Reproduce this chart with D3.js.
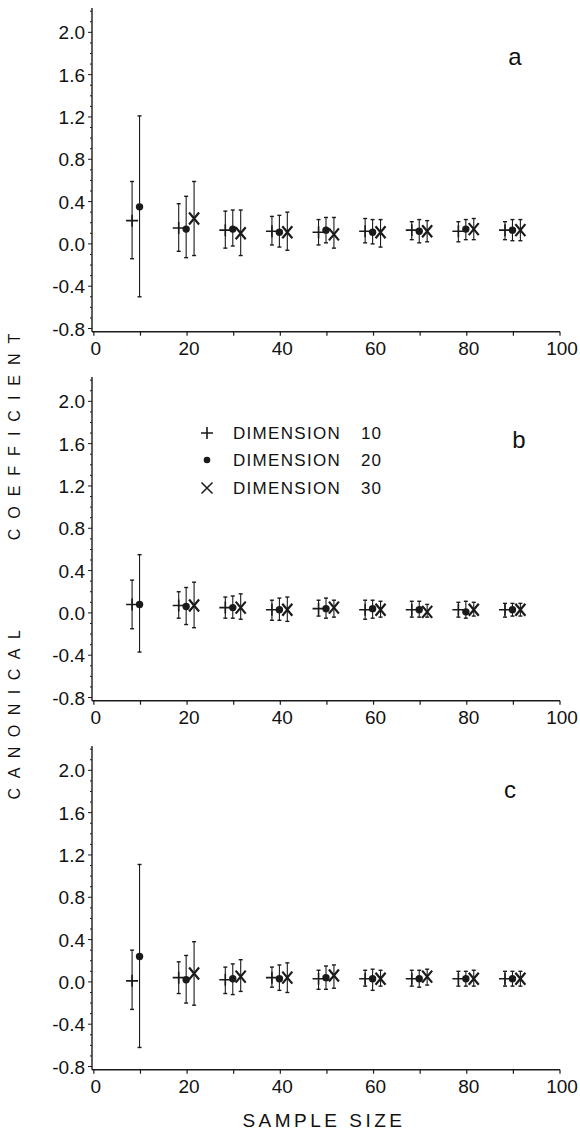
<!DOCTYPE html>
<html>
<head>
<meta charset="utf-8">
<script src="https://cdn.jsdelivr.net/npm/d3@7"></script>
<style>
  body { margin: 0; background: #fff; }
  text { font-family: "Liberation Sans", Arial, sans-serif; fill: #111; }
</style>
</head>
<body>
<div id="chart"></div>
<script>
// sample sizes (x groups)
const sampleSizes = [10, 20, 30, 40, 50, 60, 70, 80, 90];
const dimensions = [10, 20, 30];
const xTickLabels = [0, 20, 40, 60, 80, 100];
const yTickLabels = [-0.8, -0.4, 0.0, 0.4, 0.8, 1.2, 1.6, 2.0];
const panelNames = ["a", "b", "c"];

// panel a
const aMean10 = [0.22, 0.15, 0.13, 0.12, 0.11, 0.12, 0.13, 0.12, 0.13];
const aLow10  = [-0.14, -0.07, -0.04, -0.01, -0.01, 0.01, 0.04, 0.02, 0.04];
const aHigh10 = [0.59, 0.38, 0.31, 0.26, 0.23, 0.24, 0.21, 0.21, 0.21];
const aMean20 = [0.35, 0.14, 0.14, 0.11, 0.13, 0.11, 0.12, 0.14, 0.13];
const aLow20  = [-0.50, -0.13, -0.02, -0.03, 0.01, 0.00, 0.01, 0.04, 0.03];
const aHigh20 = [1.21, 0.45, 0.32, 0.27, 0.25, 0.23, 0.23, 0.23, 0.23];
const aMean30 = [null, 0.24, 0.10, 0.11, 0.09, 0.11, 0.12, 0.14, 0.13];
const aLow30  = [null, -0.11, -0.11, -0.06, -0.04, -0.03, 0.02, 0.04, 0.03];
const aHigh30 = [null, 0.59, 0.32, 0.30, 0.25, 0.23, 0.22, 0.24, 0.23];

// panel b
const bMean10 = [0.08, 0.07, 0.05, 0.03, 0.04, 0.03, 0.03, 0.03, 0.03];
const bLow10  = [-0.15, -0.05, -0.05, -0.07, -0.03, -0.06, -0.04, -0.04, -0.04];
const bHigh10 = [0.31, 0.20, 0.15, 0.12, 0.12, 0.12, 0.11, 0.10, 0.09];
const bMean20 = [0.08, 0.06, 0.05, 0.03, 0.04, 0.04, 0.03, 0.01, 0.03];
const bLow20  = [-0.37, -0.11, -0.05, -0.07, -0.05, -0.05, -0.04, -0.05, -0.03];
const bHigh20 = [0.55, 0.24, 0.16, 0.14, 0.14, 0.12, 0.11, 0.11, 0.09];
const bMean30 = [null, 0.07, 0.05, 0.03, 0.05, 0.03, 0.01, 0.03, 0.03];
const bLow30  = [null, -0.14, -0.06, -0.08, -0.04, -0.04, -0.04, -0.03, -0.03];
const bHigh30 = [null, 0.29, 0.18, 0.15, 0.12, 0.11, 0.08, 0.10, 0.09];

// panel c
const cMean10 = [0.01, 0.04, 0.02, 0.04, 0.03, 0.03, 0.03, 0.03, 0.03];
const cLow10  = [-0.26, -0.11, -0.11, -0.05, -0.07, -0.04, -0.04, -0.04, -0.04];
const cHigh10 = [0.30, 0.19, 0.14, 0.14, 0.11, 0.11, 0.11, 0.10, 0.10];
const cMean20 = [0.24, 0.02, 0.03, 0.03, 0.04, 0.03, 0.03, 0.03, 0.03];
const cLow20  = [-0.62, -0.20, -0.12, -0.08, -0.07, -0.08, -0.05, -0.04, -0.04];
const cHigh20 = [1.11, 0.25, 0.17, 0.16, 0.15, 0.12, 0.11, 0.10, 0.10];
const cMean30 = [null, 0.08, 0.05, 0.04, 0.06, 0.03, 0.05, 0.03, 0.03];
const cLow30  = [null, -0.22, -0.09, -0.10, -0.06, -0.04, -0.03, -0.04, -0.04];
const cHigh30 = [null, 0.38, 0.21, 0.18, 0.16, 0.11, 0.12, 0.11, 0.10];

const panels = [
  { name: "a", mean: [aMean10, aMean20, aMean30], low: [aLow10, aLow20, aLow30], high: [aHigh10, aHigh20, aHigh30] },
  { name: "b", mean: [bMean10, bMean20, bMean30], low: [bLow10, bLow20, bLow30], high: [bHigh10, bHigh20, bHigh30] },
  { name: "c", mean: [cMean10, cMean20, cMean30], low: [cLow10, cLow20, cLow30], high: [cHigh10, cHigh20, cHigh30] }
];

// horizontal shift of each dimension inside a group (sample size units)
const dimShift = [-1.8, -0.2, 1.5];

const width = 580, height = 1133;
const svg = d3.select("#chart").append("svg")
    .attr("width", width).attr("height", height);

const x = d3.scaleLinear().domain([-0.4, 100]).range([92, 560]);
const ink = "#1a1a1a";

panels.forEach(function (p, i) {
    const off = i * 369;
    const y = d3.scaleLinear().domain([-0.83, 2.23]).range([331.7 + off, 8 + off]);
    const g = svg.append("g");

    // y axis line + ticks
    g.append("line")
        .attr("x1", x(-0.4)).attr("x2", x(-0.4))
        .attr("y1", y(2.23)).attr("y2", y(-0.83))
        .attr("stroke", ink).attr("stroke-width", 1.4);
    const minor = d3.range(-8, 23).map(d => d / 10);
    g.selectAll(".ytick").data(minor).enter().append("line")
        .attr("x1", x(-0.4))
        .attr("x2", d => x(-0.4) - (Math.abs(Math.round(d * 10)) % 4 === 0 ? 4 : 2))
        .attr("y1", d => y(d)).attr("y2", d => y(d))
        .attr("stroke", ink).attr("stroke-width", 1);
    g.selectAll(".ylab").data(yTickLabels).enter().append("text")
        .attr("x", 85).attr("y", d => y(d) + 7)
        .attr("text-anchor", "end")
        .style("font-size", "19px")
        .text(d => d3.format(".1f")(d).replace("−", "-"));

    // x axis line + ticks
    g.append("line")
        .attr("x1", x(-0.4)).attr("x2", x(100))
        .attr("y1", y(-0.83)).attr("y2", y(-0.83))
        .attr("stroke", ink).attr("stroke-width", 1.4);
    g.selectAll(".xtick").data(d3.range(0, 101, 10)).enter().append("line")
        .attr("x1", d => x(d)).attr("x2", d => x(d))
        .attr("y1", y(-0.83)).attr("y2", y(-0.83) + 4)
        .attr("stroke", ink).attr("stroke-width", 1.2);
    g.selectAll(".xlab").data(xTickLabels).enter().append("text")
        .attr("x", d => x(d) + 2).attr("y", y(-0.83) + 23)
        .attr("text-anchor", "middle")
        .style("font-size", "19px")
        .text(d => d);

    // panel letter
    g.append("text")
        .attr("x", [515, 519, 510][i]).attr("y", [65, 448, 798][i])
        .attr("text-anchor", "middle")
        .style("font-size", "24px")
        .text(p.name);

    // error bars and markers
    dimensions.forEach(function (dim, k) {
        const pts = sampleSizes.map((n, j) => ({
            n: n, m: p.mean[k][j], lo: p.low[k][j], hi: p.high[k][j]
        })).filter(d => d.m !== null);
        const cx = d => x(d.n + dimShift[k]);

        g.selectAll(".bar" + k).data(pts).enter().append("line")
            .attr("x1", cx).attr("x2", cx)
            .attr("y1", d => y(d.lo)).attr("y2", d => y(d.hi))
            .attr("stroke", ink).attr("stroke-width", 1.1);
        ["lo", "hi"].forEach(function (key) {
            g.selectAll(".cap" + k + key).data(pts).enter().append("line")
                .attr("x1", d => cx(d) - 2).attr("x2", d => cx(d) + 2)
                .attr("y1", d => y(d[key])).attr("y2", d => y(d[key]))
                .attr("stroke", ink).attr("stroke-width", 1.4);
        });

        if (k === 0) {
            g.selectAll(".plus").data(pts).enter().append("path")
                .attr("d", d => "M" + (cx(d) - 6) + "," + y(d.m) + "h12M" + cx(d) + "," + (y(d.m) - 6) + "v12")
                .attr("stroke", ink).attr("stroke-width", 1.6).attr("fill", "none");
        } else if (k === 1) {
            g.selectAll(".dot").data(pts).enter().append("circle")
                .attr("cx", cx).attr("cy", d => y(d.m)).attr("r", 3.7)
                .attr("fill", ink);
        } else {
            g.selectAll(".cross").data(pts).enter().append("path")
                .attr("d", d => "M" + (cx(d) - 5) + "," + (y(d.m) - 6) + "l10,12M" + (cx(d) + 5) + "," + (y(d.m) - 6) + "l-10,12")
                .attr("stroke", ink).attr("stroke-width", 2.2).attr("fill", "none");
        }
    });
});

// legend (panel b)
const legendY = [433, 460, 488];
const lg = svg.append("g");
lg.append("path")
    .attr("d", "M201," + legendY[0] + "h12M207," + (legendY[0] - 6) + "v12")
    .attr("stroke", ink).attr("stroke-width", 1.6);
lg.append("circle").attr("cx", 207).attr("cy", legendY[1]).attr("r", 3.3).attr("fill", ink);
lg.append("path")
    .attr("d", "M201.5," + (legendY[2] - 5.5) + "l11,11M212.5," + (legendY[2] - 5.5) + "l-11,11")
    .attr("stroke", ink).attr("stroke-width", 1.5);
dimensions.forEach(function (dim, k) {
    lg.append("text").attr("x", 233).attr("y", legendY[k] + 6)
        .style("font-size", "17px").style("letter-spacing", "1.3px")
        .text("DIMENSION");
    lg.append("text").attr("x", 382).attr("y", legendY[k] + 6)
        .attr("text-anchor", "end")
        .style("font-size", "17px").style("letter-spacing", "1px")
        .text(dim);
});

// axis titles
svg.append("text")
    .attr("x", 324).attr("y", 1127)
    .attr("text-anchor", "middle")
    .style("font-size", "19px").style("letter-spacing", "3.5px")
    .text("SAMPLE  SIZE");

svg.append("text")
    .attr("transform", "translate(20,710) rotate(-90)")
    .attr("text-anchor", "middle")
    .style("font-size", "16px").style("letter-spacing", "9.5px")
    .text("CANONICAL");
svg.append("text")
    .attr("transform", "translate(20,432) rotate(-90)")
    .attr("text-anchor", "middle")
    .style("font-size", "16px").style("letter-spacing", "10px")
    .text("COEFFICIENT");
</script>
</body>
</html>
